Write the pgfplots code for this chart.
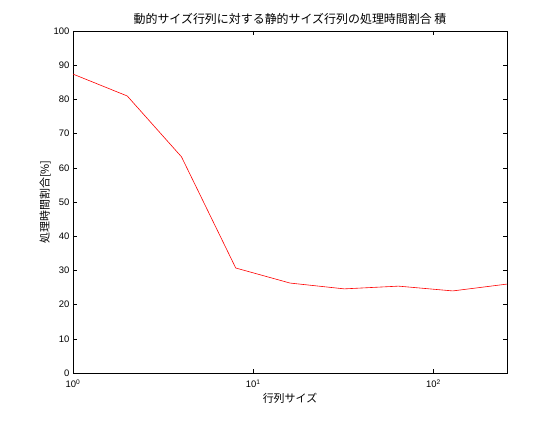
\documentclass[border=0pt]{standalone}
\usepackage{pgfplots}
\pgfplotsset{compat=1.18}
\usepackage{fontspec}
\setmainfont{Liberation Sans}
\newfontfamily\cjk{Noto Sans CJK JP}
\begin{document}
\begin{tikzpicture}[x=1bp,y=1bp]
\path (0,0) rectangle (560,420);
\begin{axis}[
  at={(73bp,47bp)}, anchor=south west,
  scale only axis, width=434bp, height=342bp,
  xmode=log, log basis x=10,
  xmin=1, xmax=256, ymin=0, ymax=100,
  ytick={0,10,...,100},
  xtick={1,10,100},
  xticklabels={10\textsuperscript{0},10\textsuperscript{1},10\textsuperscript{2}},
  tick align=inside, tick pos=both,
  major tick length=4bp, minor tick length=2bp,
  /pgf/number format/assume math mode=true,
  tick label style={font=\fontsize{9.5}{11}\selectfont, text=black},
  xticklabel style={yshift=-3bp},
  title={\cjk\fontsize{12}{14}\selectfont 動的サイズ行列に対する静的サイズ行列の処理時間割合 積},
  title style={yshift=-3bp},
  xlabel={\cjk\fontsize{11}{13}\selectfont 行列サイズ},
  ylabel={\cjk\fontsize{11}{13}\selectfont 処理時間割合[\%]},
  xlabel style={yshift=2bp},
  ylabel style={yshift=-4bp},
  axis line style={black, line width=0.6bp},
  every tick/.style={black, line width=0.5bp},
]
\addplot[red, line width=0.6bp, mark=none] coordinates {
(1,87.4) (2,81.0) (4,63.2) (8,30.7) (16,26.3) (32,24.6) (64,25.4) (128,24.0) (256,26.0)
};
\end{axis}
\end{tikzpicture}
\end{document}
